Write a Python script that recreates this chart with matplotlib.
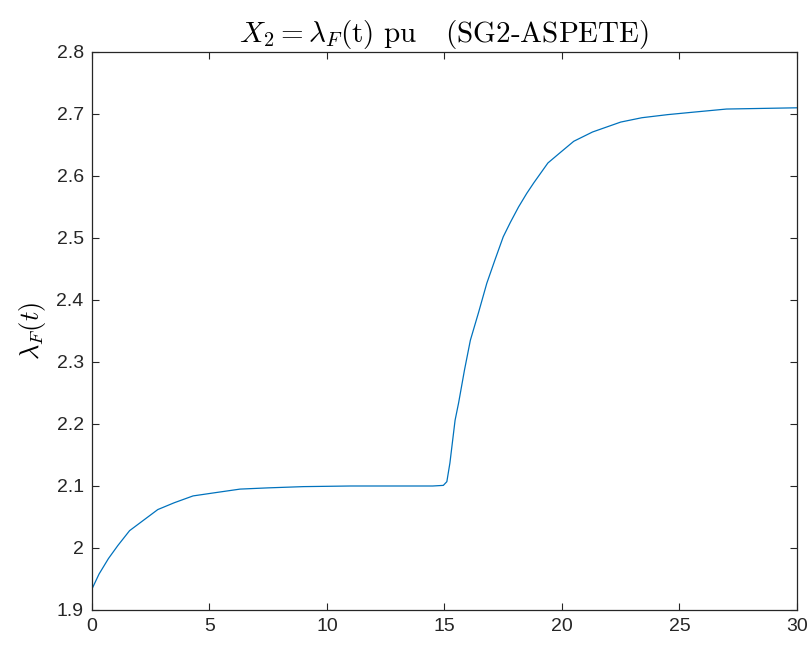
import numpy as np
import matplotlib
matplotlib.use("Agg")
import matplotlib.pyplot as plt

#  DATA
t_vals = [0, 0.3, 0.7, 1.1, 1.6, 2.2, 2.8, 3.5, 4.3, 5.2, 6.3, 7.5, 9, 11, 13,
          14.5, 14.95, 15.1, 15.23, 15.45, 15.6, 15.85, 16.1, 16.45, 16.8, 17.15,
          17.5, 17.8, 18.15, 18.5, 18.8, 19.4, 19.9, 20.5, 21.3, 22.5, 23.4,
          24.5, 25.6, 27, 28.5, 30]
lam_vals = [1.934, 1.958, 1.983, 2.004, 2.028, 2.045, 2.062, 2.073, 2.084,
            2.089, 2.095, 2.097, 2.099, 2.100, 2.100, 2.100, 2.101, 2.107,
            2.137, 2.206, 2.234, 2.287, 2.335, 2.380, 2.427, 2.465, 2.502,
            2.525, 2.550, 2.572, 2.589, 2.621, 2.637, 2.656, 2.671, 2.687,
            2.694, 2.699, 2.703, 2.708, 2.709, 2.710]
x_ticks = [0, 5, 10, 15, 20, 25, 30]
y_ticks = [1.9, 2.0, 2.1, 2.2, 2.3, 2.4, 2.5, 2.6, 2.7, 2.8]
y_tick_labels = ["1.9", "2", "2.1", "2.2", "2.3", "2.4", "2.5", "2.6", "2.7", "2.8"]

TITLE  = r"$X_2 = \lambda_F$(t) pu   (SG2-ASPETE)"
YLABEL = r"$\lambda_F(t)$"

#  STYLE
plt.rcParams["mathtext.fontset"] = "cm"
plt.rcParams["font.family"] = ["Liberation Sans", "DejaVu Sans"]
AX_COL = "#262626"

fig = plt.figure(figsize=(8.12, 6.46), dpi=100)
ax = fig.add_axes([92 / 812, 36 / 646, 705 / 812, 558 / 646])

ax.plot(t_vals, lam_vals, color="#0072BD", linewidth=0.9)

ax.set_xlim(0, 30)
ax.set_ylim(1.9, 2.8)
ax.set_xticks(x_ticks)
ax.set_yticks(y_ticks)
ax.set_yticklabels(y_tick_labels)

ax.tick_params(direction="in", length=5, width=0.8, colors=AX_COL,
               labelsize=14, top=True, right=True, pad=6)
for s in ax.spines.values():
    s.set_color(AX_COL)
    s.set_linewidth(0.9)

ax.set_title(TITLE, fontsize=21, family="cmr10", pad=7)
ax.set_ylabel(YLABEL, fontsize=19, labelpad=6)

fig.savefig("out.png", dpi=100)
